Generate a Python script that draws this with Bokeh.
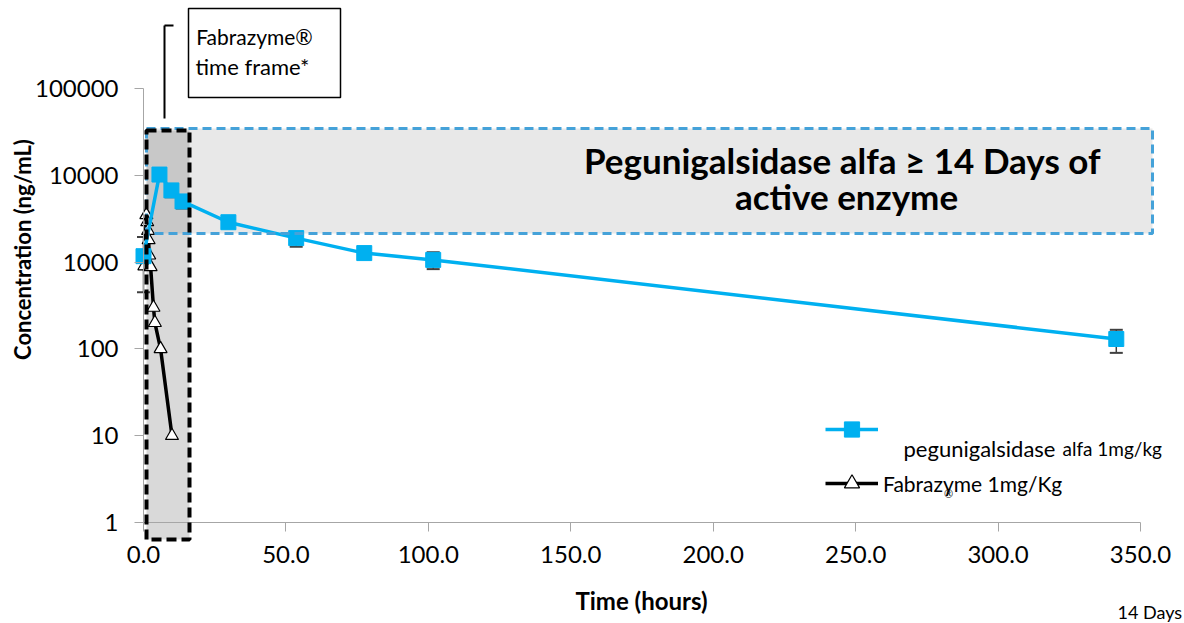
import math
from bokeh.plotting import figure
from bokeh.models import (ColumnDataSource, Range1d, FixedTicker, NumeralTickFormatter,
                          BoxAnnotation, Label, Arrow, Legend, LegendItem)
from bokeh.embed import file_html
from bokeh.resources import INLINE

# ---------------- data ----------------
peg_time = [0.0, 5.6, 9.8, 13.7, 29.8, 53.6, 77.5, 101.7, 341.5]
peg_conc = [1170, 10200, 6700, 5000, 2880, 1890, 1270, 1060, 130]
peg_lower = [450, 10200, 5600, 4150, 2880, 1500, 1270, 830, 90]
peg_upper = [1940, 10200, 6700, 5000, 2880, 1890, 1270, 1300, 166]

fab_time = [0.3, 1.0, 1.3, 1.6, 1.8, 2.0, 2.5, 3.5, 4.0, 6.0, 10.0]
fab_conc = [900, 3500, 2900, 2300, 1800, 1200, 880, 300, 200, 100, 10]

x_ticks = [0, 50, 100, 150, 200, 250, 300, 350]
y_ticks = [1, 10, 100, 1000, 10000, 100000]

x_title = "Time (hours)"
y_title = "Concentration (ng/mL)"
peg_label = "pegunigalsidase"
peg_label_small = "alfa 1mg/kg"
fab_label = "Fabrazyme 1mg/Kg"
box_text_1 = "Pegunigalsidase alfa \u2265 14  Days of"
box_text_2 = "active enzyme"
frame_text_1 = "Fabrazyme\u00ae"
frame_text_2 = "time frame*"
days_text = "14 Days"

# ---------------- layout helpers (screen px -> data) ----------------
W, H = 1184, 623
AX_L, AX_R, AX_T, AX_B = 143, 1140, 88, 522   # pixel positions of x=0, x=350, y=1e5, y=1
X_END = 350.0
Y_EXP = 5.0


def dx(px):
    return (px - AX_L) / (AX_R - AX_L) * X_END


def dy(py):
    return 10 ** ((AX_B - py) / (AX_B - AX_T) * Y_EXP)


FONT = "Lato"
BLUE = "#00B0F0"

p = figure(width=W, height=H, y_axis_type="log",
           x_range=Range1d(dx(0), dx(W)), y_range=Range1d(dy(H), dy(0)),
           output_backend="svg", toolbar_location=None,
           min_border_left=0, min_border_right=0,
           min_border_top=0, min_border_bottom=0)
p.outline_line_color = None
p.xgrid.visible = False
p.ygrid.visible = False
p.background_fill_color = "white"
p.border_fill_color = "white"

# ---------------- shaded regions (behind data) ----------------
BL, BR, BT, BB = 146, 189, 130, 539      # black dashed box (px)
UL, UR, UT, UB = 146, 1152, 128, 233     # blue dashed box (px)

p.quad(left=[dx(UL)], right=[dx(UR)], top=[dy(UT)], bottom=[dy(UB)],
       fill_color="#E8E8E8", line_color=None)
p.quad(left=[dx(BL)], right=[dx(BR)], top=[dy(BT)], bottom=[dy(BB)],
       fill_color="#6D6D6D", fill_alpha=0.26, line_color=None)

# ---------------- data ----------------
peg_src = ColumnDataSource(dict(t=peg_time, c=peg_conc, lo=peg_lower, hi=peg_upper))
fab_src = ColumnDataSource(dict(t=fab_time, c=fab_conc))

p.segment(x0="t", y0="lo", x1="t", y1="hi", source=peg_src, line_color="#404040", line_width=1.5)
p.dash(x="t", y="lo", source=peg_src, size=13, line_color="#404040", line_width=2)
p.dash(x="t", y="hi", source=peg_src, size=13, line_color="#404040", line_width=2)

fab_line = p.line(x="t", y="c", source=fab_src, line_color="black", line_width=3.5)
fab_pts = p.scatter(x="t", y="c", source=fab_src, marker="triangle", size=13,
                    fill_color="white", line_color="black", line_width=1.2)
peg_line = p.line(x="t", y="c", source=peg_src, line_color=BLUE, line_width=3.5)
peg_pts = p.scatter(x="t", y="c", source=peg_src, marker="square", size=15,
                    fill_color=BLUE, line_color=BLUE)

# ---------------- dashed borders ----------------
p.add_layout(BoxAnnotation(left=dx(UL), right=dx(UR), top=dy(UT), bottom=dy(UB),
                           fill_alpha=0, line_color="#45A2D9", line_alpha=1,
                           line_width=3, line_dash="9 5"))
p.add_layout(BoxAnnotation(left=dx(BL), right=dx(BR), top=dy(BT), bottom=dy(BB),
                           fill_alpha=0, line_color="black", line_alpha=1,
                           line_width=4, line_dash="10 5"))

# ---------------- axes (drawn at x=0 and y=1) ----------------
for ax in (p.xaxis[0], p.yaxis[0]):
    ax.axis_line_color = "#A6A6A6"
    ax.major_tick_line_color = "#A6A6A6"
    ax.minor_tick_line_color = None
    ax.major_tick_in = 0
    ax.major_tick_out = 9
    ax.major_label_text_font = FONT
    ax.major_label_text_font_size = "24px"
    ax.major_label_text_color = "black"

p.xaxis.fixed_location = 1
p.xaxis.bounds = (0, X_END)
p.xaxis.ticker = FixedTicker(ticks=x_ticks)
p.xaxis.formatter = NumeralTickFormatter(format="0.0")
p.xaxis.major_label_standoff = 14
p.yaxis.fixed_location = 0
p.yaxis.bounds = (1, 100000)
p.yaxis.ticker = FixedTicker(ticks=y_ticks)
p.yaxis.formatter = NumeralTickFormatter(format="0")
p.yaxis.major_label_standoff = 16

# axis titles
p.add_layout(Label(x=dx(641), y=dy(600), text=x_title, text_font=FONT,
                   text_font_size="24px", text_font_style="bold", text_color="black",
                   text_align="center", text_baseline="middle"))
p.add_layout(Label(x=dx(22), y=dy(249), text=y_title, text_font=FONT,
                   text_font_size="22px", text_font_style="bold", angle=math.pi / 2,
                   text_color="black", text_align="center", text_baseline="middle"))

# ---------------- big text ----------------
p.add_layout(Label(x=dx(846), y=dy(159), text=box_text_1, text_font=FONT,
                   text_font_size="35px", text_font_style="bold", text_color="black",
                   text_align="center", text_baseline="alphabetic"))
p.add_layout(Label(x=dx(846), y=dy(195), text=box_text_2, text_font=FONT,
                   text_font_size="35px", text_font_style="bold", text_color="black",
                   text_align="center", text_baseline="alphabetic"))

# ---------------- Fabrazyme time-frame call-out ----------------
p.add_layout(BoxAnnotation(left=dx(188), right=dx(340), top=dy(8), bottom=dy(97),
                           fill_color="white", fill_alpha=1, line_color="black",
                           line_alpha=1, line_width=1.5))
p.add_layout(Label(x=dx(254), y=dy(36), text=frame_text_1, text_font=FONT,
                   text_font_size="21px", text_color="black",
                   text_align="center", text_baseline="middle"))
p.add_layout(Label(x=dx(252), y=dy(66), text=frame_text_2, text_font=FONT,
                   text_font_size="22px", text_color="black",
                   text_align="center", text_baseline="middle"))
p.add_layout(Arrow(end=None, x_start=dx(173), y_start=dy(25), x_end=dx(164), y_end=dy(25),
                   line_color="black", line_width=2))
p.add_layout(Arrow(end=None, x_start=dx(164), y_start=dy(25), x_end=dx(164), y_end=dy(118),
                   line_color="black", line_width=2))

# ---------------- legend ----------------
legend = Legend(items=[LegendItem(label=" ", renderers=[peg_line, peg_pts]),
                       LegendItem(label=fab_label, renderers=[fab_line, fab_pts])],
                location=(825, H - 502), orientation="vertical",
                glyph_width=53, glyph_height=38, spacing=16, padding=0, margin=0,
                label_standoff=5, label_text_font=FONT, label_text_font_size="21px",
                label_text_color="black", background_fill_alpha=0,
                border_line_color=None)
p.add_layout(legend)
p.add_layout(Label(x=dx(903), y=dy(448), text=peg_label, text_font=FONT,
                   text_font_size="22px", text_color="black",
                   text_align="left", text_baseline="alphabetic"))
p.add_layout(Label(x=dx(1062), y=dy(448), text=peg_label_small, text_font=FONT,
                   text_font_size="19px", text_color="black",
                   text_align="left", text_baseline="alphabetic"))
p.add_layout(Label(x=dx(948), y=dy(493), text="\u00ae", text_font=FONT,
                   text_font_size="11px", text_color="black",
                   text_align="center", text_baseline="middle"))

p.add_layout(Label(x=dx(1117), y=dy(611), text=days_text, text_font=FONT,
                   text_font_size="18px", text_color="black",
                   text_align="left", text_baseline="middle"))

open("out.html", "w").write(file_html(p, INLINE))
